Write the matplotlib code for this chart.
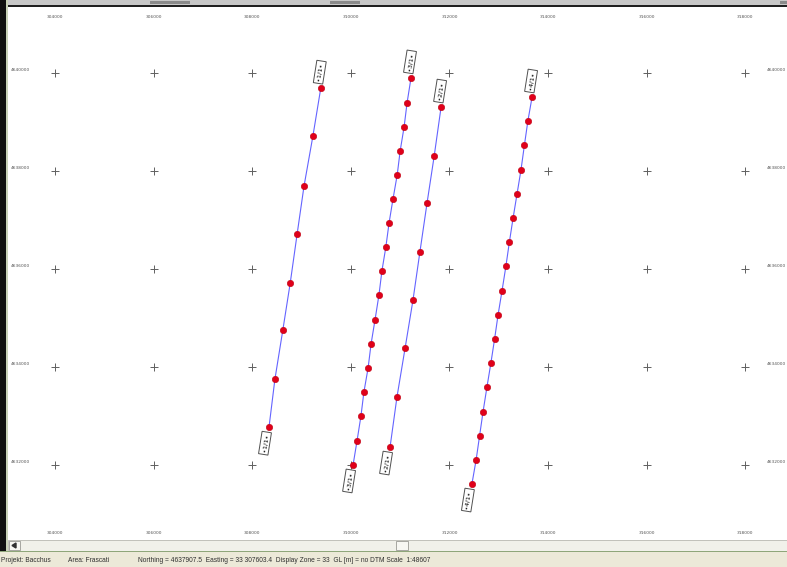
import matplotlib.pyplot as plt
from matplotlib.patches import Rectangle, Polygon

# grid / scale values (map coordinates, metres)
east_ticks = [304000, 306000, 308000, 310000, 312000, 314000, 316000, 318000]
north_ticks = [4640000, 4638000, 4636000, 4634000, 4632000]

# survey lines: easting / northing of each station, top to bottom
line1_e = [309390, 309230, 309050, 308910, 308770, 308620, 308460, 308340]
line1_n = [4639690, 4638710, 4637690, 4636710, 4635710, 4634750, 4633750, 4632770]

line2_e = [311220, 311140, 311080, 311000, 310940, 310855, 310775, 310710, 310630,
           310570, 310490, 310410, 310350, 310265, 310205, 310125, 310045]
line2_n = [4639900, 4639390, 4638900, 4638410, 4637920, 4637430, 4636940, 4636450,
           4635960, 4635470, 4634960, 4634470, 4633980, 4633490, 4633000, 4632490, 4632000]

line3_e = [311830, 311690, 311545, 311400, 311260, 311100, 310935, 310795]
line3_n = [4639305, 4638305, 4637345, 4636345, 4635365, 4634385, 4633385, 4632365]

line4_e = [313675, 313590, 313520, 313450, 313370, 313290, 313215, 313145, 313065,
           312985, 312915, 312840, 312760, 312680, 312610, 312540, 312455]
line4_n = [4639510, 4639020, 4638530, 4638020, 4637530, 4637040, 4636550, 4636060,
           4635550, 4635060, 4634570, 4634080, 4633590, 4633080, 4632590, 4632100, 4631610]

line_names = ['1/1', '3/1', '2/1', '4/1']

status_project = 'Projekt: Bacchus'
status_area = 'Area: Frascati'
status_info = ('Northing = 4637907.5  Easting = 33 307603.4  Display Zone = 33  '
               'GL [m] = no DTM Scale  1:48607')

W, H = 787, 567
fig = plt.figure(figsize=(W / 100, H / 100), dpi=100)
fig.patch.set_facecolor('white')

# window chrome, drawn in pixel coordinates
bg = fig.add_axes([0, 0, 1, 1], zorder=0)
bg.set_xlim(0, W)
bg.set_ylim(H, 0)
bg.axis('off')
bg.add_patch(Rectangle((0, 0), W, 6, color='#c8c8c8', lw=0))
bg.add_patch(Rectangle((0, 5), W, 1.5, color='#202020', lw=0))
for x0, w in [(150, 40), (330, 30), (780, 10)]:
    bg.add_patch(Rectangle((x0, 1), w, 3, color='#8a8a8a', lw=0))
bg.add_patch(Rectangle((0, 0), 6, 551, color='#101010', lw=0))
bg.add_patch(Rectangle((6, 0), 2, 551, color='#c9d2b8', lw=0))
# scroll bar
bg.add_patch(Rectangle((8, 540), W - 8, 11, facecolor='#f1f1ea', edgecolor='#b8b8b0', lw=0.6))
bg.add_patch(Rectangle((9, 541), 11, 9, facecolor='#f7f7f2', edgecolor='#9a9a94', lw=0.6))
bg.add_patch(Polygon([(12, 545.5), (16, 543), (16, 548)], closed=True, color='#303030'))
bg.add_patch(Rectangle((396, 541), 12, 9, facecolor='#f7f7f2', edgecolor='#9a9a94', lw=0.6))
# status bar
bg.add_patch(Rectangle((0, 550.5), W, 1.5, color='#8fa67a', lw=0))
bg.add_patch(Rectangle((0, 552), W, H - 552, color='#ece9d8', lw=0))
st = dict(fontsize=4.8, color='#303030', va='center', ha='left', family='Liberation Sans')
bg.text(1, 560, status_project, **st)
bg.text(68, 560, status_area, **st)
bg.text(138, 560, status_info, **st)

# map view
ax = fig.add_axes([8 / W, (H - 540) / H, (W - 8) / W, 535 / H], zorder=1)
ax.set_facecolor('white')
ax.set_xlim(303047, 318845)
ax.set_ylim(4630468, 4641388)
ax.axis('off')

for n in north_ticks:
    for e in east_ticks:
        ax.plot(e, n, marker='+', ms=6, mew=0.7, color='#606060', zorder=2)

lbl = dict(fontsize=3.2, color='#555555', va='center')
for e in east_ticks:
    ax.text(e, 4641150, str(e), ha='center', **lbl)
    ax.text(e, 4630620, str(e), ha='center', **lbl)
for n in north_ticks:
    ax.text(303110, n + 60, str(n), ha='left', **lbl)
    ax.text(318440, n + 60, str(n), ha='left', **lbl)

lines = [(line1_e, line1_n), (line2_e, line2_n), (line3_e, line3_n), (line4_e, line4_n)]
for (le, ln), name in zip(lines, line_names):
    ax.plot(le, ln, color='#6464ff', lw=0.8, zorder=3)
    ax.plot(le, ln, 'o', ms=4.6, color='#e0001a', mec='#c00010', mew=0.4, zorder=4)
    box = dict(boxstyle='square,pad=0.35', fc='white', ec='#505050', lw=0.7)
    ax.annotate('\u2022' + name + '\u2022', (le[0], ln[0]), xytext=(-1, 16),
                textcoords='offset pixels', ha='center', va='center', rotation=81,
                fontsize=4.6, bbox=box, zorder=5)
    ax.annotate('\u2022' + name + '\u2022', (le[-1], ln[-1]), xytext=(-4, -16),
                textcoords='offset pixels', ha='center', va='center', rotation=81,
                fontsize=4.6, bbox=box, zorder=5)

fig.savefig('out.png', dpi=100)
